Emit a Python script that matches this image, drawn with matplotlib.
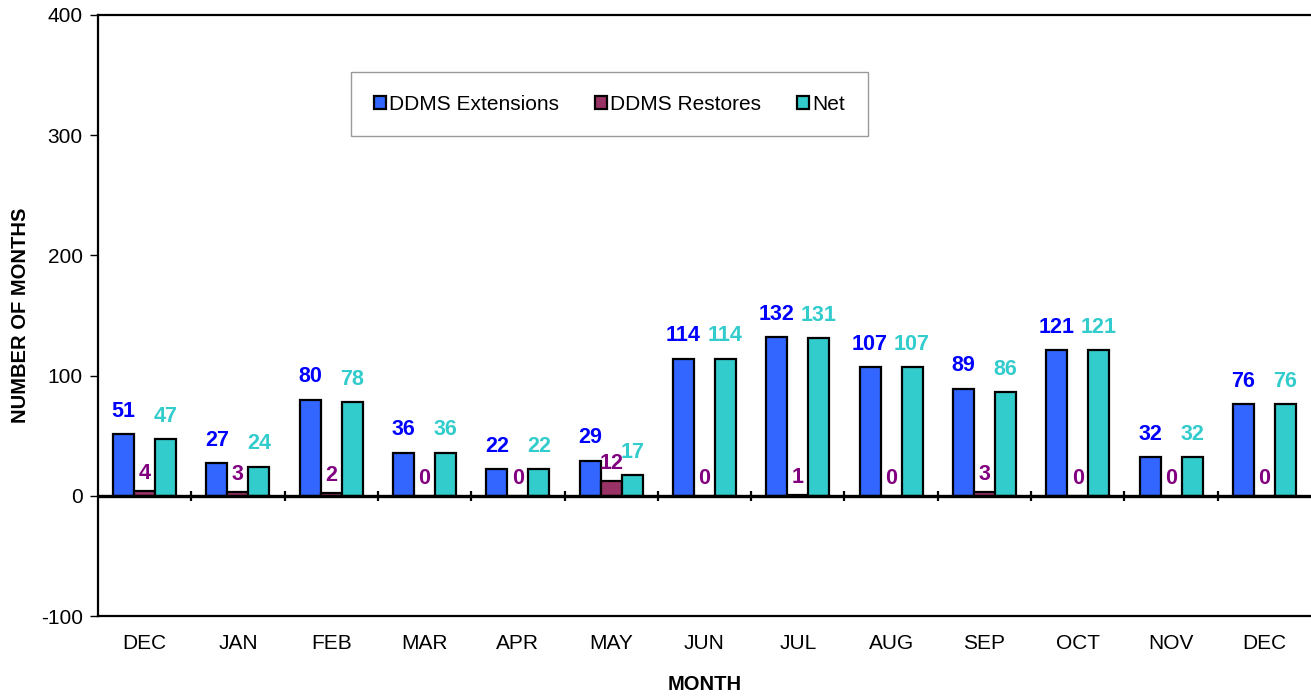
import numpy as np
import matplotlib
matplotlib.use('Agg')
import matplotlib.pyplot as plt

plt.rcParams['font.family'] = ['Liberation Sans', 'DejaVu Sans']
plt.rcParams['axes.unicode_minus'] = False

# %% data
months = ['DEC', 'JAN', 'FEB', 'MAR', 'APR', 'MAY', 'JUN', 'JUL', 'AUG',
          'SEP', 'OCT', 'NOV', 'DEC']
extensions = [51, 27, 80, 36, 22, 29, 114, 132, 107, 89, 121, 32, 76]
restores = [4, 3, 2, 0, 0, 12, 0, 1, 0, 3, 0, 0, 0]
net = [47, 24, 78, 36, 22, 17, 114, 131, 107, 86, 121, 32, 76]

series = [('DDMS Extensions', extensions, '#3366FF', '#0000FF', 9),
          ('DDMS Restores', restores, '#993366', '#800080', 5),
          ('Net', net, '#33CCCC', '#33CCCC', 9)]

# %% plot
fig = plt.figure(figsize=(13.11, 6.96), dpi=100)
ax = fig.add_axes([98 / 1311, 1 - 616 / 696, 1 - 98 / 1311, (616 - 15) / 696])

x = np.arange(len(months))
w = 0.225
for i, (name, vals, col, lcol, off) in enumerate(series):
    xpos = x + (i - 1) * w
    ax.bar(xpos, vals, w, color=col, edgecolor='black', linewidth=1.6,
           label=name, zorder=3)
    for xp, v in zip(xpos, vals):
        ax.annotate(str(v), (xp, v), xytext=(0, off), textcoords='offset points',
                    ha='center', va='bottom', fontsize=15.5, fontweight='bold',
                    color=lcol, zorder=5)

ax.set_xlim(-0.5, len(months) - 0.5)
ax.set_ylim(-100, 400)
ax.set_yticks(np.arange(-100, 401, 100))

# zero line with category boundary ticks
ax.axhline(0, color='black', linewidth=2.4, zorder=4)
bounds = np.arange(0.5, len(months) - 0.5)
ax.vlines(bounds, -4, 4, color='black', linewidth=1.6, zorder=4)

ax.set_xticks(x)
ax.set_xticklabels(months)
ax.tick_params(axis='x', length=0, pad=13, labelsize=15)
ax.tick_params(axis='y', length=6, width=1, direction='out', labelsize=15, pad=5)

for s in ['left', 'top', 'bottom']:
    ax.spines[s].set_linewidth(1.6)
ax.spines['right'].set_visible(False)

ax.set_ylabel('NUMBER OF MONTHS', fontsize=14.5, fontweight='bold', labelpad=8)
ax.set_xlabel('MONTH', fontsize=14.5, fontweight='bold', labelpad=16)

leg = ax.legend(loc='center', bbox_to_anchor=(609.5 / 1311, 1 - 104 / 696),
                bbox_transform=fig.transFigure, ncol=3, fontsize=15,
                frameon=True, fancybox=False, borderpad=1.1, columnspacing=1.7,
                handlelength=0.6, handleheight=0.6, handletextpad=0.15)
leg.get_frame().set_edgecolor('#808080')
leg.get_frame().set_linewidth(1.0)

fig.savefig('out.png', dpi=100)
